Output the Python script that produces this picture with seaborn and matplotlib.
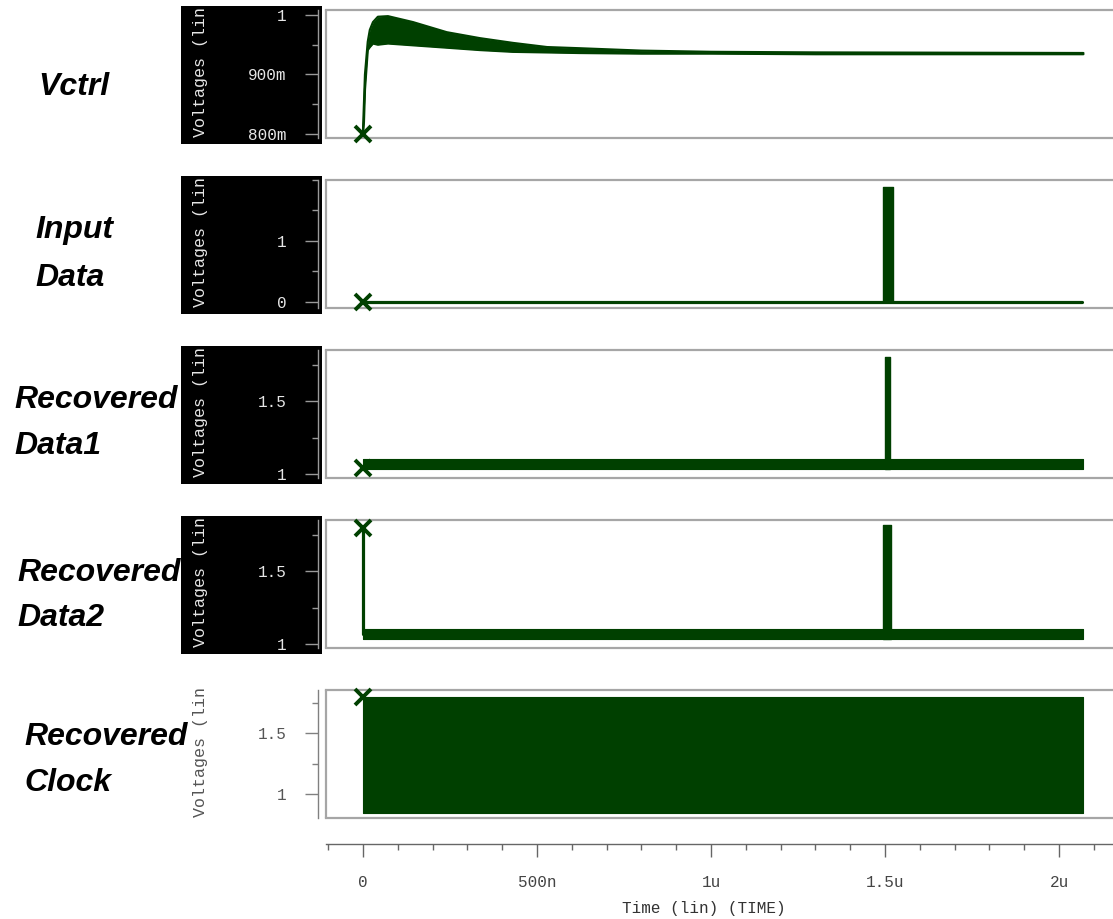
import matplotlib
matplotlib.use("Agg")
import matplotlib.pyplot as plt
import seaborn as sns
from matplotlib.patches import Rectangle
from matplotlib.ticker import FixedLocator, MultipleLocator, FixedFormatter

# ---------------- data (time in ns, values in V) ----------------
vctrl_t = [0, 3, 6, 14, 20, 29, 43, 72, 144, 241, 336, 431, 529, 624, 800, 1000, 1300, 2070]
vctrl_hi = [0.80, 0.85, 0.90, 0.955, 0.975, 0.988, 0.997, 0.998, 0.988, 0.971, 0.961,
            0.953, 0.946, 0.944, 0.940, 0.938, 0.937, 0.936]
vctrl_lo = [0.80, 0.82, 0.875, 0.941, 0.946, 0.952, 0.950, 0.952, 0.949, 0.945, 0.941,
            0.938, 0.937, 0.936, 0.935, 0.935, 0.934, 0.934]

input_t = [0, 2066]
input_v = [0.0, 0.0]
input_burst_t = [1494, 1522]
input_burst_top = 1.88

rd1_t = [0, 2069]
rd1_hi = [1.10, 1.10]
rd1_lo = [1.03, 1.03]
rd1_spike_t = [1500, 1513]
rd1_spike_top = 1.81

rd2_start_t = [0, 0]
rd2_start_v = [1.80, 1.07]
rd2_t = [0, 2069]
rd2_hi = [1.10, 1.10]
rd2_lo = [1.03, 1.03]
rd2_spike_t = [1494, 1518]
rd2_spike_top = 1.82

clk_t = [0, 2069]
clk_hi = [1.80, 1.80]
clk_lo = [0.84, 0.84]

marker_v = [0.80, 0.0, 1.04, 1.80, 1.80]

panel_names = [["Vctrl"], ["Input", "Data"], ["Recovered", "Data1"],
               ["Recovered", "Data2"], ["Recovered", "Clock"]]
ylabel_text = "Voltages (lin"
ylims = [(0.793, 1.0084), (-0.10, 2.0), (0.97, 1.856), (0.97, 1.856), (0.80, 1.858)]
major_ticks = [[0.8, 0.9, 1.0], [0, 1], [1, 1.5], [1, 1.5], [1, 1.5]]
major_labels = [["800m", "900m", "1"], ["0", "1"], ["1", "1.5"], ["1", "1.5"], ["1", "1.5"]]
minor_step = [0.05, 0.5, 0.25, 0.25, 0.25]

time_ticks = [0, 500, 1000, 1500, 2000]
time_labels = ["0", "500n", "1u", "1.5u", "2u"]
xlim = (-106, 2155)

# ---------------- style / layout ----------------
sns.set_theme(style="white")
plt.rcParams["font.family"] = ["Liberation Mono", "DejaVu Sans Mono"]

W, H = 1113, 919
fig = plt.figure(figsize=(W / 100, H / 100), dpi=100)
fig.patch.set_facecolor("white")


def fx(px):
    return px / W


def fy(py):
    return 1 - py / H


GREEN = "#004000"
BOXC = "#a6a6a6"
box_tops = [10, 180, 350, 520, 690]
box_h = 128
name_x = [38, 35, 14, 17, 24]
name_y = [[87], [230, 278], [400, 446], [573, 618], [737, 783]]

axes = []
for i in range(5):
    top = box_tops[i]
    bot = top + box_h
    dark = i < 4
    ax = fig.add_axes([fx(326), fy(bot), fx(1113 - 326), box_h / H])
    axes.append(ax)
    ax.set_xlim(*xlim)
    ax.set_ylim(*ylims[i])
    ax.set_facecolor("white")
    ax.set_xticks([])
    for s in ["top", "bottom"]:
        ax.spines[s].set_color(BOXC)
        ax.spines[s].set_linewidth(1.6)
    ax.spines["right"].set_visible(False)
    tickc = "#9a9a9a" if dark else "#808080"
    labc = "#e6e6e6" if dark else "#555555"
    ax.spines["left"].set_position(("outward", 5.8))
    ax.spines["left"].set_color(tickc)
    ax.spines["left"].set_linewidth(1.0)
    ax.plot([0, 0], [0, 1], transform=ax.transAxes, color=BOXC, lw=1.6, clip_on=False)
    ax.yaxis.set_major_locator(FixedLocator(major_ticks[i]))
    ax.yaxis.set_major_formatter(FixedFormatter(major_labels[i]))
    ax.yaxis.set_minor_locator(MultipleLocator(minor_step[i]))
    ax.tick_params(axis="y", which="major", direction="out", length=9.4, width=1.0,
                   color=tickc, labelcolor=labc, labelsize=11.5, pad=13, left=True)
    ax.tick_params(axis="y", which="minor", direction="out", length=4.3, width=1.0,
                   color=tickc, left=True)
    ax.grid(False)

    # black label panel
    if dark:
        rect = Rectangle((fx(181), fy(bot + 6)), fx(322 - 181), (bot + 6 - (top - 4)) / H,
                         transform=fig.transFigure, facecolor="black", edgecolor="none",
                         zorder=-1)
        fig.patches.append(rect)
    fig.text(fx(200), fy(bot - 1), ylabel_text, rotation=90, ha="center", va="bottom",
             color=labc, fontsize=12)

    for line, yy in zip(panel_names[i], name_y[i]):
        fig.text(fx(name_x[i]), fy(yy), line, ha="left", va="center",
                 family=["Liberation Sans", "DejaVu Sans"], weight="bold", style="italic",
                 fontsize=23, color="black")

# ---------------- signals ----------------
ax = axes[0]
ax.fill_between(vctrl_t, vctrl_lo, vctrl_hi, color=GREEN, lw=0)
sns.lineplot(x=vctrl_t, y=vctrl_hi, ax=ax, color=GREEN, lw=1.6, estimator=None, sort=False)
sns.lineplot(x=vctrl_t, y=vctrl_lo, ax=ax, color=GREEN, lw=1.6, estimator=None, sort=False)

ax = axes[1]
sns.lineplot(x=input_t, y=input_v, ax=ax, color=GREEN, lw=2.3, estimator=None, sort=False)
ax.fill_between(input_burst_t, [input_v[0]] * 2, [input_burst_top] * 2, color=GREEN, lw=1)

ax = axes[2]
ax.fill_between(rd1_t, rd1_lo, rd1_hi, color=GREEN, lw=0.8)
ax.fill_between(rd1_spike_t, [rd1_lo[0]] * 2, [rd1_spike_top] * 2, color=GREEN, lw=1)

ax = axes[3]
sns.lineplot(x=rd2_start_t, y=rd2_start_v, ax=ax, color=GREEN, lw=2.3, estimator=None, sort=False)
ax.fill_between(rd2_t, rd2_lo, rd2_hi, color=GREEN, lw=0.8)
ax.fill_between(rd2_spike_t, [rd2_lo[0]] * 2, [rd2_spike_top] * 2, color=GREEN, lw=1)

ax = axes[4]
ax.fill_between(clk_t, clk_lo, clk_hi, color=GREEN, lw=0.8)

for ax, v in zip(axes, marker_v):
    ax.plot([0], [v], marker="x", ms=12, mew=2.8, color=GREEN, clip_on=False, zorder=5)

# ---------------- time axis ----------------
axt = fig.add_axes([fx(326), fy(844), fx(1113 - 326), 1 / H])
axt.set_facecolor("none")
axt.set_xlim(*xlim)
axt.set_yticks([])
for s in ["top", "left", "right"]:
    axt.spines[s].set_visible(False)
axt.spines["bottom"].set_color("#666666")
axt.spines["bottom"].set_linewidth(1.0)
axt.xaxis.set_major_locator(FixedLocator(time_ticks))
axt.xaxis.set_major_formatter(FixedFormatter(time_labels))
axt.xaxis.set_minor_locator(MultipleLocator(100))
axt.tick_params(axis="x", which="major", direction="out", length=9.4, width=1.0,
                color="#666666", labelcolor="#444444", labelsize=11.5, pad=13, bottom=True)
axt.tick_params(axis="x", which="minor", direction="out", length=4.3, width=1.0,
                color="#666666", bottom=True)
fig.text(fx(704), fy(908), "Time (lin) (TIME)", ha="center", va="center",
         fontsize=11.5, color="#333333")

fig.savefig("out.png", dpi=100)
